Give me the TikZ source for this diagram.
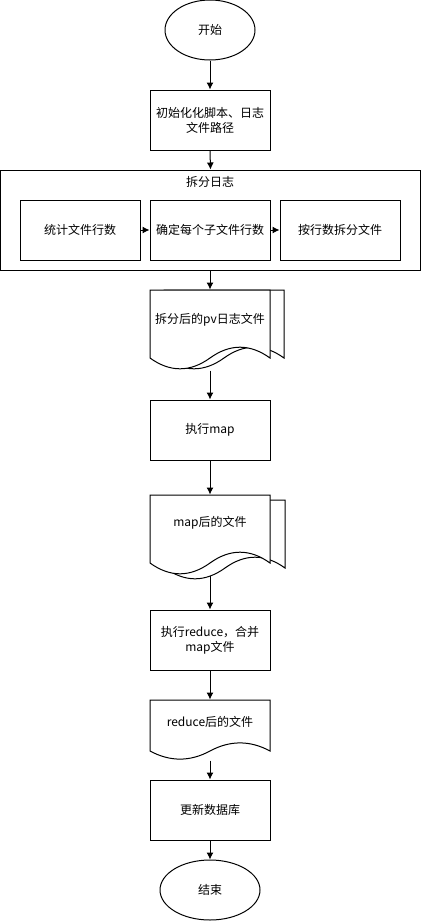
\documentclass[tikz,border=0pt]{standalone}
\usepackage{fontspec}
\setmainfont{Noto Sans CJK SC}
\usetikzlibrary{arrows, arrows.meta, positioning, shapes}

% document shape: left, top, width, height
\newcommand{\docshape}[4]{%
  \draw[fill=white] (#1,#2) -- ({#1+#3},#2) -- ({#1+#3},{#2+0.85*#4})
    .. controls ({#1+5*#3/6},{#2+0.67*#4}) and ({#1+2*#3/3},{#2+0.67*#4}) .. ({#1+#3/2},{#2+0.85*#4})
    .. controls ({#1+#3/3},{#2+1.03*#4}) and ({#1+#3/6},{#2+1.03*#4}) .. (#1,{#2+0.85*#4}) -- cycle;}

\begin{document}
\begin{tikzpicture}[x=1pt, y=-1pt, line width=1pt, >={Latex[length=7pt, width=7pt]},
    font=\fontsize{12pt}{15pt}\selectfont,
    box/.style={draw, rectangle, minimum width=120pt, minimum height=60pt, align=center, inner sep=2pt},
    term/.style={draw, ellipse, minimum height=60pt, inner sep=0pt},
    doc/.style={rectangle, minimum width=120pt, inner sep=0pt}]

    \useasboundingbox (0,0) rectangle (421,921);

    \node[term, minimum width=90pt] (start) at (210,30) {开始};
    \node[box] (init) at (210,120) {初始化化脚本、日志\\文件路径};

    % split group
    \node[draw, minimum width=420pt, minimum height=100pt, inner sep=0pt] (split) at (210.5,220) {};
    \node (splittitle) at (210,182) {拆分日志};
    \node[box] (count) at (80,230) {统计文件行数};
    \node[box] (lines) at (210,230) {确定每个子文件行数};
    \node[box] (cut) at (340,230) {按行数拆分文件};

    % documents
    \docshape{164}{290}{120}{80}
    \docshape{150}{290}{120}{80}
    \node[doc, minimum height=80pt, label={[yshift=10pt]center:拆分后的pv日志文件}] (pv) at (210,330) {};

    \node[box] (map) at (210,430) {执行map};

    \docshape{165}{500}{120}{80}
    \docshape{150}{495}{120}{80}
    \node[doc, minimum height=80pt, label={[yshift=12pt]center:map后的文件}] (mapdoc) at (210,535) {};

    \node[box] (reduce) at (210,640) {执行reduce，合并\\map文件};

    \docshape{150}{700}{120}{60}
    \node[doc, minimum height=60pt, label={[yshift=8pt]center:reduce后的文件}] (reducedoc) at (210,730) {};

    \node[box] (update) at (210,810) {更新数据库};
    \node[term, minimum width=100pt] (end) at (210,890) {结束};

    \foreach \a/\b in {start/init, init/split, pv/map, map/mapdoc, mapdoc/reduce, reduce/reducedoc, reducedoc/update, update/end}
      \draw[->] (\a.south) -- (\b.north);
    \draw[->] (split.south -| pv.north) -- (pv.north);
    \draw[->] (count) -- (lines);
    \draw[->] (lines) -- (cut);
\end{tikzpicture}
\end{document}
